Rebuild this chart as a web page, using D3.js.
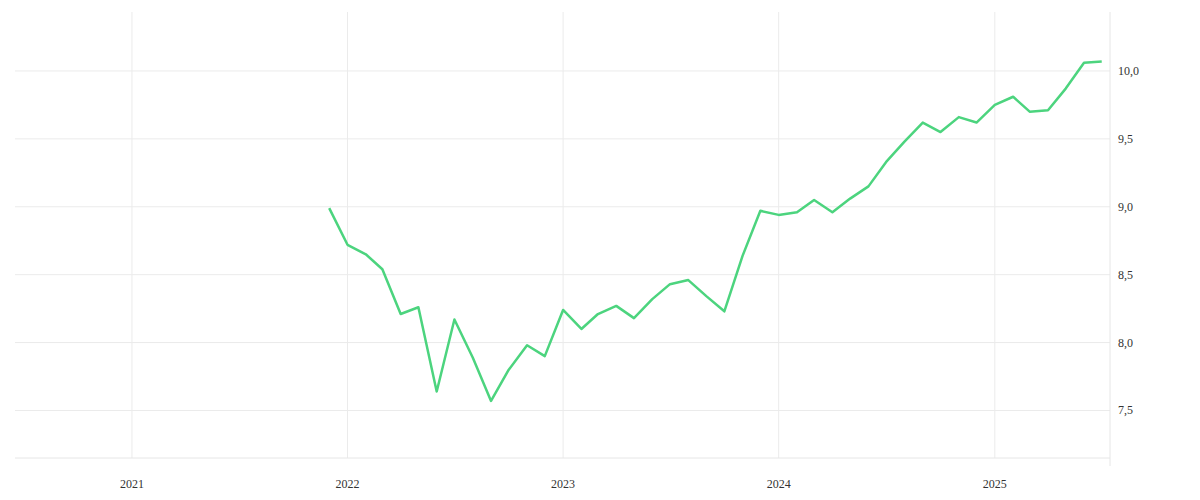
<!DOCTYPE html>
<html><head><meta charset="utf-8">
<script src="https://cdn.jsdelivr.net/npm/d3@7"></script>
<style>body{margin:0;background:#fff}</style></head>
<body><svg id="c" width="1200" height="500"></svg>
<script>
const startMonth = "2021-12";
const values = [8.99,8.72,8.65,8.54,8.21,8.26,7.64,8.17,7.89,7.57,7.80,7.98,7.90,
8.24,8.10,8.21,8.27,8.18,8.32,8.43,8.46,8.34,8.23,8.64,8.97,
8.94,8.96,9.05,8.96,9.06,9.15,9.33,9.48,9.62,9.55,9.66,9.62,
9.75,9.81,9.70,9.71,9.87,10.06,10.07];
const yTicks = [7.5,8.0,8.5,9.0,9.5,10.0];
const xTickYears = [2021,2022,2023,2024,2025];

const svg = d3.select("#c");
const L=15,R=1110,T=12,B=458;
const t0 = d3.timeParse("%Y-%m")(startMonth);
const data = values.map((v,i)=>({d:d3.timeMonth.offset(t0,i),v}));
const x = d3.scaleTime().domain([new Date(2020,5,17),new Date(2025,6,15)]).range([L,R]);
const y = d3.scaleLinear().domain([7.15,10.434]).range([B,T]);
const g = svg.append("g");
xTickYears.forEach(yr=>{
  const px=x(new Date(yr,0,1));
  g.append("line").attr("x1",px).attr("x2",px).attr("y1",T).attr("y2",B).attr("stroke","#ebebeb");
  g.append("text").attr("x",px).attr("y",488).attr("text-anchor","middle")
   .attr("font-family","Liberation Serif, DejaVu Serif, serif").attr("font-size",12).attr("fill","#333").text(yr);
});
yTicks.forEach(v=>{
  const py=y(v);
  g.append("line").attr("x1",L).attr("x2",R).attr("y1",py).attr("y2",py).attr("stroke","#ebebeb");
  g.append("text").attr("x",1118).attr("y",py+4).attr("font-family","Liberation Serif, DejaVu Serif, serif")
   .attr("font-size",12).attr("fill","#333").text(d3.format(".1f")(v).replace(".",","));
});
g.append("line").attr("x1",L).attr("x2",R).attr("y1",B).attr("y2",B).attr("stroke","#e6e6e6");
g.append("line").attr("x1",R).attr("x2",R).attr("y1",T).attr("y2",466).attr("stroke","#e6e6e6");
svg.append("path").datum(data).attr("fill","none").attr("stroke","#4cd47e").attr("stroke-width",2.5)
  .attr("stroke-linejoin","round")
  .attr("d",d3.line().x(d=>x(d.d)).y(d=>y(d.v)));
</script></body></html>
